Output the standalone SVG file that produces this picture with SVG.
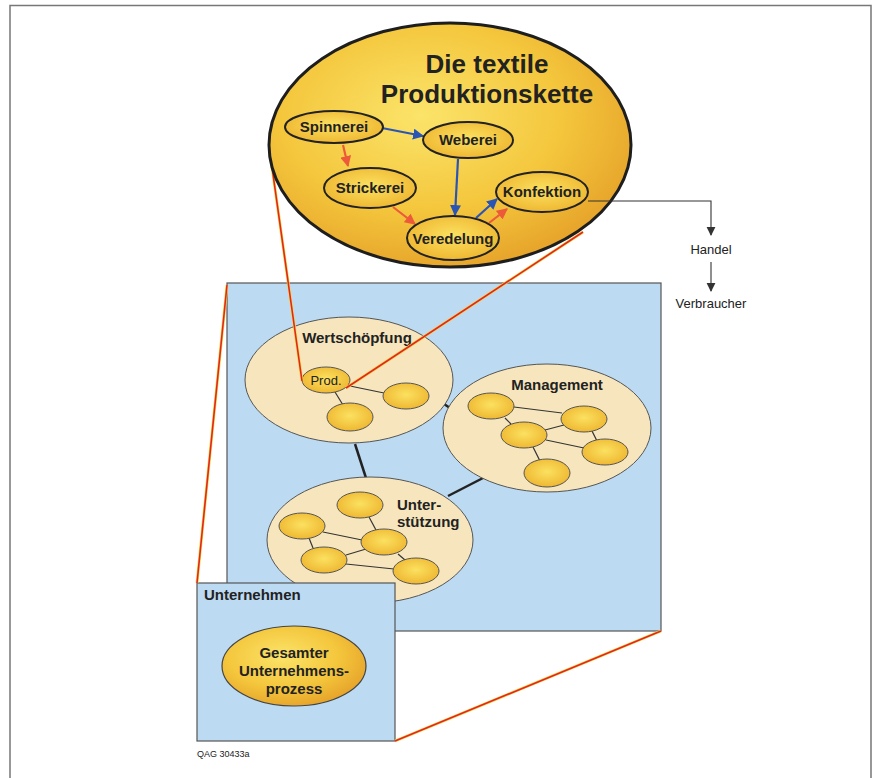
<svg xmlns="http://www.w3.org/2000/svg" width="872" height="778" viewBox="0 0 872 778">
<defs>
<radialGradient id="gold" cx="0.42" cy="0.38" r="0.65">
<stop offset="0" stop-color="#fbe46a"/>
<stop offset="0.6" stop-color="#f4c63c"/>
<stop offset="1" stop-color="#e6a32a"/>
</radialGradient>
<radialGradient id="goldS" cx="0.5" cy="0.45" r="0.6">
<stop offset="0" stop-color="#fbe160"/>
<stop offset="1" stop-color="#eeb42e"/>
</radialGradient>
<marker id="ab" viewBox="0 0 10 10" refX="9" refY="5" markerWidth="5" markerHeight="5" orient="auto" markerUnits="strokeWidth"><path d="M0,0 L10,5 L0,10 z" fill="#2b55b5"/></marker>
<marker id="ar" viewBox="0 0 10 10" refX="9" refY="5" markerWidth="5" markerHeight="5" orient="auto" markerUnits="strokeWidth"><path d="M0,0 L10,5 L0,10 z" fill="#ec5a3a"/></marker>
<marker id="ak" viewBox="0 0 10 10" refX="9" refY="5" markerWidth="8" markerHeight="10" orient="auto" markerUnits="strokeWidth"><path d="M0,0 L10,5 L0,10 z" fill="#333"/></marker>
</defs>
<style>
text{font-family:"Liberation Sans",Arial,sans-serif;fill:#222}
.b{font-weight:bold}
.node{fill:url(#goldS);stroke:#222;stroke-width:2}
.sm{fill:url(#goldS);stroke:#555;stroke-width:1}
.grp{fill:#f7e6bd;stroke:#555;stroke-width:1}
.ln{stroke:#333;stroke-width:1.2;fill:none}
.thick{stroke:#222;stroke-width:2.5;fill:none}
.blue{stroke:#2b55b5;stroke-width:2.2;fill:none;marker-end:url(#ab)}
.red{stroke:#ec5a3a;stroke-width:2.2;fill:none;marker-end:url(#ar)}
.zy{stroke:#f7d634;stroke-width:2.8;fill:none}
.zr{stroke:#e0262a;stroke-width:1.6;fill:none}
</style>
<rect x="0" y="0" width="872" height="778" fill="#fff"/>
<path d="M10,778 L10,5.5 L871,5.5 L871,778" fill="none" stroke="#777" stroke-width="1.5"/>

<g id="unternehmensbereich">
<rect x="227" y="283" width="434" height="348" fill="#bcdaf2" stroke="#555" stroke-width="1.2"/>
</g>

<g id="verbindungen">
<line class="thick" x1="355" y1="444" x2="366" y2="478"/>
<line class="thick" x1="444" y1="404" x2="450" y2="408"/>
<line class="thick" x1="448" y1="496" x2="483" y2="478"/>
</g>

<g id="wertschoepfung">
<ellipse class="grp" cx="349" cy="380" rx="104" ry="63"/>
<text class="b" x="357" y="343" font-size="15" text-anchor="middle">Wertschöpfung</text>
<line class="ln" x1="350" y1="386" x2="384" y2="393"/>
<line class="ln" x1="335" y1="392" x2="343" y2="405"/>
<ellipse class="sm" cx="326" cy="380" rx="24" ry="13"/>
<text x="326" y="385" font-size="13" text-anchor="middle">Prod.</text>
<ellipse class="sm" cx="406" cy="396" rx="23" ry="13"/>
<ellipse class="sm" cx="350" cy="417" rx="23" ry="14"/>
</g>

<g id="management">
<ellipse class="grp" cx="547" cy="428" rx="104" ry="64"/>
<text class="b" x="557" y="390" font-size="15" text-anchor="middle">Management</text>
<line class="ln" x1="514" y1="407" x2="562" y2="413"/>
<line class="ln" x1="545" y1="430" x2="564" y2="425"/>
<line class="ln" x1="546" y1="440" x2="584" y2="448"/>
<line class="ln" x1="592" y1="431" x2="597" y2="441"/>
<line class="ln" x1="533" y1="447" x2="540" y2="461"/>
<line class="ln" x1="505" y1="418" x2="511" y2="424"/>
<ellipse class="sm" cx="491" cy="406" rx="23" ry="13"/>
<ellipse class="sm" cx="584" cy="419" rx="23" ry="13"/>
<ellipse class="sm" cx="524" cy="435" rx="23" ry="13"/>
<ellipse class="sm" cx="605" cy="452" rx="23" ry="13"/>
<ellipse class="sm" cx="547" cy="473" rx="23" ry="14"/>
</g>

<g id="unterstuetzung">
<ellipse class="grp" cx="370" cy="540" rx="103" ry="63"/>
<text class="b" x="397" y="510" font-size="15">Unter-</text>
<text class="b" x="397" y="527" font-size="15">stützung</text>
<line class="ln" x1="369" y1="517" x2="376" y2="530"/>
<line class="ln" x1="323" y1="532" x2="362" y2="540"/>
<line class="ln" x1="309" y1="538" x2="313" y2="548"/>
<line class="ln" x1="346" y1="555" x2="366" y2="549"/>
<line class="ln" x1="346" y1="564" x2="394" y2="569"/>
<line class="ln" x1="398" y1="554" x2="405" y2="560"/>
<ellipse class="sm" cx="360" cy="505" rx="23" ry="13"/>
<ellipse class="sm" cx="302" cy="526" rx="23" ry="13"/>
<ellipse class="sm" cx="384" cy="542" rx="23" ry="13"/>
<ellipse class="sm" cx="324" cy="560" rx="23" ry="13"/>
<ellipse class="sm" cx="416" cy="571" rx="23" ry="13"/>
</g>

<g id="unternehmen">
<rect x="197" y="583" width="198" height="158" fill="#bcdaf2" stroke="#555" stroke-width="1.2"/>
<text class="b" x="204" y="600" font-size="15">Unternehmen</text>
<ellipse cx="294" cy="666" rx="72" ry="40" fill="url(#gold)" stroke="#444" stroke-width="1.2"/>
<text class="b" x="294" y="658" font-size="15" text-anchor="middle">Gesamter</text>
<text class="b" x="294" y="676" font-size="15" text-anchor="middle">Unternehmens-</text>
<text class="b" x="294" y="694" font-size="15" text-anchor="middle">prozess</text>
</g>

<g id="zoomlinien">
<path class="zy" d="M271,160 L302,381 M583,232 L346,388 M227,285 L197,583 M661,631 L395,741"/>
<path class="zr" d="M271,160 L302,381 M583,232 L346,388 M227,285 L197,583 M661,631 L395,741"/>
</g>

<g id="produktionskette">
<ellipse cx="450" cy="145" rx="181" ry="122" fill="url(#gold)" stroke="#1e1e1e" stroke-width="3"/>
<text class="b" x="487" y="73" font-size="26" text-anchor="middle">Die textile</text>
<text class="b" x="487" y="103" font-size="26" text-anchor="middle">Produktionskette</text>
</g>

<g id="pfeile">
<line class="blue" x1="382" y1="128" x2="423" y2="136"/>
<line class="red" x1="343" y1="145" x2="348" y2="166"/>
<line class="blue" x1="458" y1="159" x2="455" y2="215"/>
<line class="red" x1="393" y1="207" x2="415" y2="224"/>
<line class="blue" x1="476" y1="218" x2="497" y2="199"/>
<line class="red" x1="489" y1="223" x2="507" y2="209"/>
<path d="M588,201 L711,201 L711,235" fill="none" stroke="#333" stroke-width="1.1" marker-end="url(#ak)"/>
<line x1="711" y1="262" x2="711" y2="291" stroke="#333" stroke-width="1.1" marker-end="url(#ak)"/>
</g>

<g id="spinnerei"><ellipse class="node" cx="334" cy="127" rx="49" ry="16"/><text class="b" x="334" y="132" font-size="15" text-anchor="middle">Spinnerei</text></g>
<g id="weberei"><ellipse class="node" cx="468" cy="140" rx="45" ry="18"/><text class="b" x="468" y="145" font-size="15" text-anchor="middle">Weberei</text></g>
<g id="strickerei"><ellipse class="node" cx="370" cy="188" rx="46" ry="20"/><text class="b" x="370" y="193" font-size="15" text-anchor="middle">Strickerei</text></g>
<g id="konfektion"><ellipse class="node" cx="542" cy="192" rx="46" ry="20"/><text class="b" x="542" y="197" font-size="15" text-anchor="middle">Konfektion</text></g>
<g id="veredelung"><ellipse class="node" cx="453" cy="238" rx="46" ry="22"/><text class="b" x="453" y="244" font-size="15" text-anchor="middle">Veredelung</text></g>

<g id="handel"><text x="711" y="254" font-size="13" text-anchor="middle">Handel</text></g>
<g id="verbraucher"><text x="711" y="308" font-size="13" text-anchor="middle">Verbraucher</text></g>
<text x="197" y="757" font-size="9" fill="#444">QAG 30433a</text>
</svg>
